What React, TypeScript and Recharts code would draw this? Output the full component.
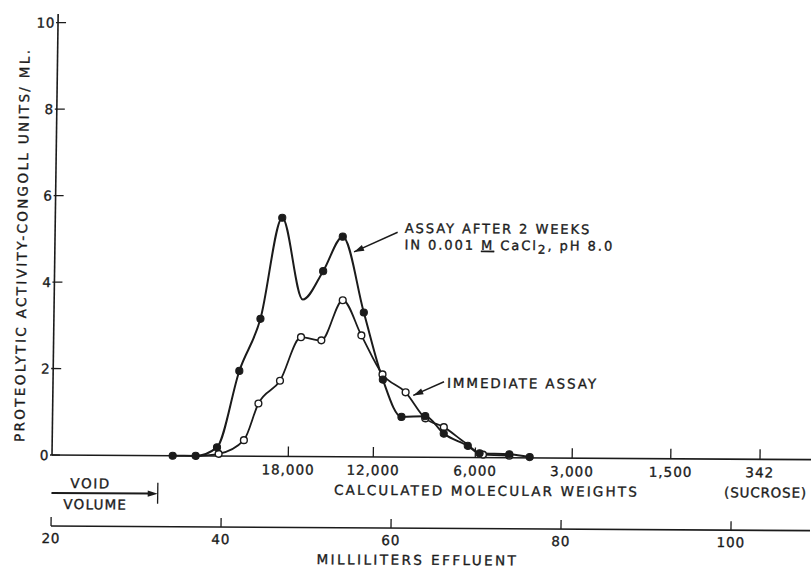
import React from "react";
import { LineChart, Line, XAxis, YAxis, ReferenceLine } from "recharts";

const FONT = "'DejaVu Sans', sans-serif";
const INK = "#1b1b1b";

// axes
const mlDomain = [20, 109.3];
const mlTicks = [20, 40, 60, 80, 100];
const activityTicks = [0, 2, 4, 6, 8, 10];

// calibration: molecular weight marks placed at their effluent volume (ml)
const mwTickMl = [47.8, 57.8, 69.8, 81.2, 92.8, 103.3];
const mwLabels = ["18,000", "12,000", "6,000", "3,000", "1,500", "342"];
const mwNotes = ["", "", "", "", "", "(SUCROSE)"];

const voidVolumeMl = 32.5;

// assay after 2 weeks in CaCl2 (filled dots)
const weeksMl = [34.2, 36.9, 39.4, 41.9, 44.3, 46.7, 49.25, 51.6, 53.85, 56.45, 58.8, 61.05, 63.85, 66.05, 68.9, 70.3, 73.8, 76.2];
const weeksActivity = [0, 0, 0.2, 1.97, 3.18, 5.52, 3.63, 4.29, 5.09, 3.34, 1.79, 0.93, 0.95, 0.55, 0.27, 0.1, 0.08, 0.02];
const weeksBare = [49.25];

// immediate assay (open circles)
const immediateMl = [36.9, 39.6, 42.55, 44.2, 46.7, 49.1, 51.5, 53.95, 56.2, 58.75, 61.5, 63.85, 66.05, 68.6, 70.7, 73.8];
const immediateActivity = [0, 0.05, 0.37, 1.22, 1.75, 2.76, 2.69, 3.62, 2.81, 1.91, 1.5, 0.9, 0.7, 0.34, 0.07, 0.05];
const immediateBare = [36.9, 68.6];

// annotation arrows: [from, to] in (ml, activity)
const weeksArrow = [{ x: 60.3, y: 5.2 }, { x: 55.2, y: 4.74 }];
const immediateArrow = [{ x: 66.0, y: 1.75 }, { x: 62.4, y: 1.43 }];

const toRows = (xs: number[], ys: number[], bare: number[]) =>
  xs.map((ml, i) => ({ ml, v: ys[i], bare: bare.includes(ml) }));

const weeksRows = toRows(weeksMl, weeksActivity, weeksBare);
const immediateRows = toRows(immediateMl, immediateActivity, immediateBare);

const TEXT = {
  fontFamily: FONT,
  fontSize: 13.5,
  fill: INK,
  stroke: INK,
  strokeWidth: 0.35,
  letterSpacing: 1.8,
};

const filledDot = (p: any) =>
  p.payload.bare ? (
    <g key={p.index} />
  ) : (
    <circle key={p.index} cx={p.cx} cy={p.cy} r={3.6} fill={INK} stroke={INK} strokeWidth={1} />
  );

const openDot = (p: any) =>
  p.payload.bare ? (
    <g key={p.index} />
  ) : (
    <circle key={p.index} cx={p.cx} cy={p.cy} r={3.4} fill="#fff" stroke={INK} strokeWidth={1.4} />
  );

function arrowHead(x1: number, y1: number, x2: number, y2: number) {
  const a = Math.atan2(y2 - y1, x2 - x1);
  const len = 10;
  const w = 3.2;
  const bx = x2 - len * Math.cos(a);
  const by = y2 - len * Math.sin(a);
  return `${x2},${y2} ${bx + w * Math.sin(a)},${by - w * Math.cos(a)} ${bx - w * Math.sin(a)},${by + w * Math.cos(a)}`;
}

const arrowShape = (text: (x: number, y: number) => React.ReactNode) => (p: any) => {
  const { x1, y1, x2, y2 } = p;
  return (
    <g>
      <line x1={x1} y1={y1} x2={x2} y2={y2} stroke={INK} strokeWidth={1.5} />
      <polygon points={arrowHead(x1, y1, x2, y2)} fill={INK} />
      {text(x1, y1)}
    </g>
  );
};

const weeksText = (x: number, y: number) => (
  <g>
    <text x={x + 7} y={y + 0.5} {...TEXT} fontSize={13} letterSpacing={1.95}>
      ASSAY AFTER 2 WEEKS
    </text>
    <text x={x + 7} y={y + 17} {...TEXT} fontSize={13} letterSpacing={1.95}>
      IN 0.001 <tspan textDecoration="underline">M</tspan> CaCl
      <tspan dy={3.5} fontSize={12}>2</tspan>
      <tspan dy={-3.5}>, pH 8.0</tspan>
    </text>
  </g>
);

const immediateText = (x: number, y: number) => (
  <text x={x + 3} y={y + 6} {...TEXT} letterSpacing={1.9}>IMMEDIATE ASSAY</text>
);

const YTick = (p: any) => {
  const { x, y, payload } = p;
  return (
    <g>
      <line x1={x - 2} y1={y} x2={x + 8} y2={y} stroke={INK} strokeWidth={1.3} />
      <text x={x - 3} y={y + 5} textAnchor="end" {...TEXT} letterSpacing={0.6}>
        {payload.value}
      </text>
    </g>
  );
};

const MwTick = (p: any) => {
  const { x, y, index } = p;
  return (
    <g>
      <line x1={x} y1={y - 10} x2={x} y2={y} stroke={INK} strokeWidth={1.3} />
      <text x={x} y={y + 18} textAnchor="middle" {...TEXT} letterSpacing={1}>
        {mwLabels[index]}
      </text>
      {mwNotes[index] ? (
        <text x={x + 6} y={y + 38} textAnchor="middle" {...TEXT} letterSpacing={0.8}>
          {mwNotes[index]}
        </text>
      ) : null}
    </g>
  );
};

const MlTick = (p: any) => {
  const { x, y, payload } = p;
  return (
    <g>
      <line x1={x} y1={y - 9} x2={x} y2={y} stroke={INK} strokeWidth={1.3} />
      <text x={x} y={y + 17} textAnchor="middle" {...TEXT} letterSpacing={0.8}>
        {payload.value}
      </text>
    </g>
  );
};

const mwTitle = (p: any) => {
  const vb = p.viewBox;
  const xv = vb.x + ((voidVolumeMl - mlDomain[0]) / (mlDomain[1] - mlDomain[0])) * vb.width;
  const ya = vb.y + 38;
  return (
    <g>
      <text x={vb.x + 435} y={vb.y + 38} textAnchor="middle" {...TEXT} letterSpacing={2.15}>
        CALCULATED MOLECULAR WEIGHTS
      </text>
      <text x={vb.x + 39} y={vb.y + 33} textAnchor="middle" {...TEXT} letterSpacing={1.6}>VOID</text>
      <text x={vb.x + 44} y={vb.y + 54} textAnchor="middle" {...TEXT} letterSpacing={1.2}>VOLUME</text>
      <line x1={vb.x} y1={ya} x2={xv - 8} y2={ya} stroke={INK} strokeWidth={2} />
      <polygon points={arrowHead(vb.x, ya, xv, ya)} fill={INK} />
      <line x1={xv} y1={ya - 11} x2={xv} y2={ya + 10} stroke={INK} strokeWidth={1.3} />
    </g>
  );
};

const mlTitle = (p: any) => {
  const vb = p.viewBox;
  return (
    <text x={vb.x + 266} y={vb.y + 36.5} {...TEXT} letterSpacing={2.45}>
      MILLILITERS EFFLUENT
    </text>
  );
};

const yTitle = () => (
  <text
    x={24}
    y={245}
    transform="rotate(-90 24 245)"
    textAnchor="middle"
    {...TEXT}
    letterSpacing={2.35}
  >
    PROTEOLYTIC ACTIVITY-CONGOLL UNITS/ ML.
  </text>
);

export default function App() {
  return (
    <div
      style={{
        position: "absolute",
        left: 0,
        top: 0,
        width: 811,
        height: 567,
        background: "#fff",
        overflow: "hidden",
      }}
    >
      {/* the scanned figure sits slightly askew */}
      <div style={{ transformOrigin: "52px 455px", transform: "rotate(0.35deg) skewX(-0.45deg)" }}>
        <LineChart width={811} height={567} margin={{ top: 14, right: 0, bottom: 0, left: 0 }}>
          <YAxis
            type="number"
            domain={[0, 10.2]}
            ticks={activityTicks}
            width={52}
            tickSize={0}
            tickMargin={0}
            tickLine={false}
            axisLine={{ stroke: INK, strokeWidth: 1.6 }}
            tick={YTick}
            interval={0}
            label={{ content: yTitle }}
          />
          <XAxis
            xAxisId="a"
            type="number"
            dataKey="ml"
            domain={mlDomain}
            ticks={mwTickMl}
            height={71}
            tickSize={0}
            tickMargin={0}
            tickLine={false}
            axisLine={{ stroke: INK, strokeWidth: 1.6 }}
            tick={MwTick}
            interval={0}
            allowDataOverflow
            label={{ content: mwTitle }}
          />
          <XAxis
            xAxisId="b"
            type="number"
            dataKey="ml"
            domain={mlDomain}
            ticks={mlTicks}
            height={41}
            tickSize={0}
            tickMargin={0}
            tickLine={false}
            axisLine={{ stroke: INK, strokeWidth: 1.6 }}
            tick={MlTick}
            interval={0}
            allowDataOverflow
            label={{ content: mlTitle }}
          />
          <Line
            xAxisId="b"
            data={immediateRows}
            dataKey="v"
            type="monotone"
            stroke={INK}
            strokeWidth={1.8}
            dot={openDot}
            activeDot={false}
            isAnimationActive={false}
          />
          <Line
            xAxisId="b"
            data={weeksRows}
            dataKey="v"
            type="monotone"
            stroke={INK}
            strokeWidth={2}
            dot={filledDot}
            activeDot={false}
            isAnimationActive={false}
          />
          <ReferenceLine xAxisId="b" segment={weeksArrow} shape={arrowShape(weeksText)} />
          <ReferenceLine xAxisId="b" segment={immediateArrow} shape={arrowShape(immediateText)} />
        </LineChart>
      </div>
    </div>
  );
}
